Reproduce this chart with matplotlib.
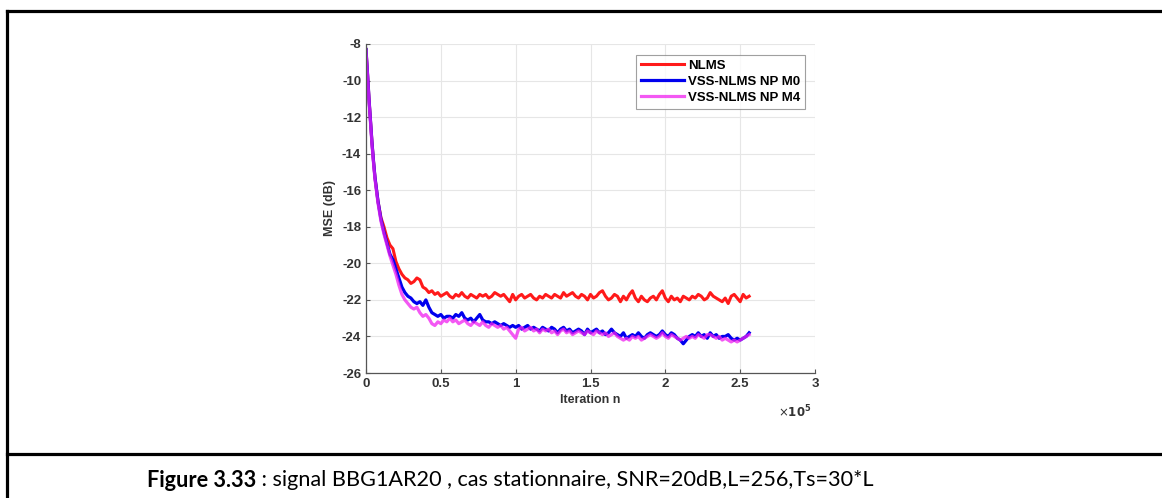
import matplotlib
matplotlib.use("Agg")
import matplotlib.pyplot as plt
import numpy as np
from matplotlib.lines import Line2D
from matplotlib.ticker import FuncFormatter

### data ###
early_iters = [0, 1000, 2000, 3000, 4000, 5000, 6000, 8000, 10000, 12000, 14000, 16000, 18000, 20000]
late_iters = np.arange(22000, 256001, 2000)
iters = np.concatenate([early_iters, late_iters])

nlms_early = [-8.3, -9.6, -11.0, -12.2, -13.4, -14.4, -15.3, -16.6, -17.5, -18.0, -18.6, -19.0, -19.2, -19.9]
nlms_late = [
    -20.3, -20.6, -20.8, -20.9, -21.1, -21.0, -20.8, -20.9, -21.3, -21.4,
    -21.6, -21.5, -21.7, -21.6, -21.8, -21.7, -21.6, -21.8, -21.9, -21.7,
    -21.8, -21.6, -21.8, -21.9, -21.7, -21.8, -21.9, -21.7, -21.8, -21.7,
    -21.9, -21.8, -21.6, -21.7, -21.8, -21.7, -21.9, -22.1, -21.7, -22.0,
    -21.8, -21.7, -21.9, -21.8, -21.7, -21.9, -22.0, -21.8, -21.9, -21.7,
    -21.8, -21.9, -21.7, -21.8, -21.9, -21.6, -21.8, -21.7, -21.6, -21.8,
    -21.9, -21.7, -21.8, -22.0, -21.7, -21.9, -21.8, -21.6, -21.5, -21.8,
    -22.0, -21.9, -21.7, -21.8, -22.1, -21.8, -22.0, -21.7, -21.5, -21.9,
    -22.1, -21.8, -22.0, -22.1, -21.9, -21.8, -22.0, -21.7, -21.5, -21.9,
    -22.1, -21.8, -22.0, -21.9, -22.1, -21.8, -21.9, -22.0, -21.8, -21.9,
    -21.7, -21.8, -22.0, -21.9, -21.6, -21.8, -21.9, -22.0, -22.1, -21.9,
    -22.2, -21.8, -21.7, -21.9, -22.1, -21.7, -21.9, -21.8]

m0_early = [-8.3, -9.6, -11.0, -12.2, -13.4, -14.4, -15.3, -16.6, -17.6, -18.3, -18.9, -19.5, -19.8, -20.3]
m0_late = [
    -20.8, -21.3, -21.6, -21.8, -21.9, -22.1, -22.2, -22.1, -22.3, -22.0,
    -22.4, -22.7, -22.8, -22.9, -22.8, -23.0, -22.9, -22.9, -23.0, -22.8,
    -22.9, -22.7, -23.0, -23.1, -23.0, -23.2, -23.0, -22.8, -23.1, -23.2,
    -23.2, -23.3, -23.2, -23.3, -23.4, -23.3, -23.4, -23.5, -23.4, -23.5,
    -23.4, -23.6, -23.5, -23.4, -23.6, -23.5, -23.6, -23.7, -23.5, -23.6,
    -23.7, -23.5, -23.6, -23.8, -23.6, -23.5, -23.7, -23.6, -23.8, -23.7,
    -23.6, -23.7, -23.9, -23.6, -23.8, -23.7, -23.6, -23.8, -23.7, -23.9,
    -23.8, -23.6, -23.8, -23.9, -24.0, -23.8, -24.1, -24.0, -23.9, -24.0,
    -23.8, -24.0, -24.1, -23.9, -23.8, -23.9, -24.0, -23.9, -23.7, -23.9,
    -24.0, -23.8, -23.9, -24.1, -24.2, -24.4, -24.2, -24.0, -23.9, -24.0,
    -23.8, -24.0, -23.9, -24.1, -23.8, -24.0, -23.9, -24.1, -24.0, -24.0,
    -23.9, -24.1, -24.2, -24.1, -24.2, -24.1, -24.0, -23.8]

m4_early = [-8.4, -9.7, -11.1, -12.3, -13.5, -14.5, -15.4, -16.7, -17.7, -18.4, -19.0, -19.6, -20.1, -20.6]
m4_late = [
    -21.2, -21.7, -22.0, -22.2, -22.4, -22.5, -22.4, -22.7, -22.9, -22.8,
    -23.0, -23.3, -23.4, -23.2, -23.3, -23.1, -23.2, -23.0, -23.2, -23.1,
    -23.3, -23.2, -23.1, -23.3, -23.4, -23.2, -23.3, -23.4, -23.2, -23.4,
    -23.5, -23.3, -23.4, -23.5, -23.4, -23.6, -23.5, -23.7, -23.9, -24.1,
    -23.6, -23.5, -23.7, -23.6, -23.5, -23.7, -23.6, -23.8, -23.6, -23.7,
    -23.6, -23.8, -23.7, -23.9, -23.7, -23.6, -23.8, -23.7, -23.9, -23.8,
    -23.7, -23.8, -23.9, -23.7, -23.8, -23.9, -23.7, -23.8, -23.9, -23.8,
    -24.0, -23.9, -23.8, -24.0, -24.1, -24.2, -24.1, -24.2, -24.0, -24.1,
    -24.0, -24.2, -24.1, -24.0, -23.9, -24.0, -24.1, -24.0, -23.8, -24.0,
    -24.1, -23.9, -24.0, -24.1, -24.2, -24.1, -24.0, -24.1, -24.0, -24.1,
    -23.9, -24.0, -24.1, -23.9, -23.9, -24.0, -24.1, -24.0, -24.2, -24.1,
    -24.2, -24.3, -24.2, -24.3, -24.2, -24.1, -24.0, -23.9]

nlms = nlms_early + nlms_late
m0 = m0_early + m0_late
m4 = m4_early + m4_late
labels = ["NLMS", "VSS-NLMS NP M0", "VSS-NLMS NP M4"]

caption_bold = "Figure 3.33"
caption_rest = " : signal BBG1AR20 , cas stationnaire, SNR=20dB,L=256,Ts=30*L"

### figure ###
plt.rcParams["font.family"] = ["Liberation Sans", "DejaVu Sans"]
plt.rcParams["axes.unicode_minus"] = False
fig = plt.figure(figsize=(11.62, 4.98), dpi=100)
ax = fig.add_axes([366/1162, 1 - 373/498, 449/1162, 329/498])

ax.plot(iters, nlms, color="#ff1a1a", lw=2.2, label=labels[0])
ax.plot(iters, m0, color="#0000ee", lw=2.3, label=labels[1])
ax.plot(iters, m4, color="#f020f0", lw=2.3, alpha=0.75, label=labels[2])

ax.set_xlim(0, 300000)
ax.set_ylim(-26, -8)
ax.set_xticks(np.arange(0, 300001, 50000))
ax.set_yticks(np.arange(-26, -7, 2))
ax.xaxis.set_major_formatter(FuncFormatter(lambda v, _: f"{v/1e5:g}"))
ax.grid(True, color="#e6e6e6", lw=0.8)
for s in ["top", "right"]:
    ax.spines[s].set_visible(False)
for s in ["left", "bottom"]:
    ax.spines[s].set_color("#555555")
    ax.spines[s].set_linewidth(0.9)
ax.tick_params(direction="in", length=3, width=0.8, colors="#555555",
               labelcolor="#333333", labelsize=9.5)
for t in ax.get_xticklabels() + ax.get_yticklabels():
    t.set_fontweight("bold")

ax.set_xlabel("Iteration n", fontsize=9, fontweight="bold", color="#333333", labelpad=3)
ax.set_ylabel("MSE (dB)", fontsize=9, fontweight="bold", color="#333333", labelpad=4)
ax.text(0.955, -0.118, r"$\times\mathbf{10^5}$", transform=ax.transAxes,
        ha="center", va="center", fontsize=8.5, color="#333333")

leg = ax.legend(loc="upper right", bbox_to_anchor=(0.978, 0.967),
                prop={"weight": "bold", "size": 9.5}, frameon=True, fancybox=False,
                handlelength=3.3, borderpad=0.35, labelspacing=0.3, handletextpad=0.3,
                borderaxespad=0)
leg.get_frame().set_edgecolor("#888888")
leg.get_frame().set_linewidth(0.8)

### table frame ###
lw = 2.3
fig.add_artist(Line2D([7/1162, 1], [1 - 11/498, 1 - 11/498], color="black", lw=lw))
fig.add_artist(Line2D([7/1162, 7/1162], [0, 1 - 11/498], color="black", lw=lw))
fig.add_artist(Line2D([7/1162, 1], [1 - 454/498, 1 - 454/498], color="black", lw=lw))

### caption ###
cap_y = 1 - 480/498
t1 = fig.text(147/1162, cap_y, caption_bold, fontsize=15.6, fontweight="bold",
              family="Lato", va="center", ha="left")
fig.canvas.draw()
bb = t1.get_window_extent()
fig.text(bb.x1/1162, cap_y, caption_rest, fontsize=15.6, family="Lato",
         va="center", ha="left")

fig.savefig("out.png", dpi=100)
